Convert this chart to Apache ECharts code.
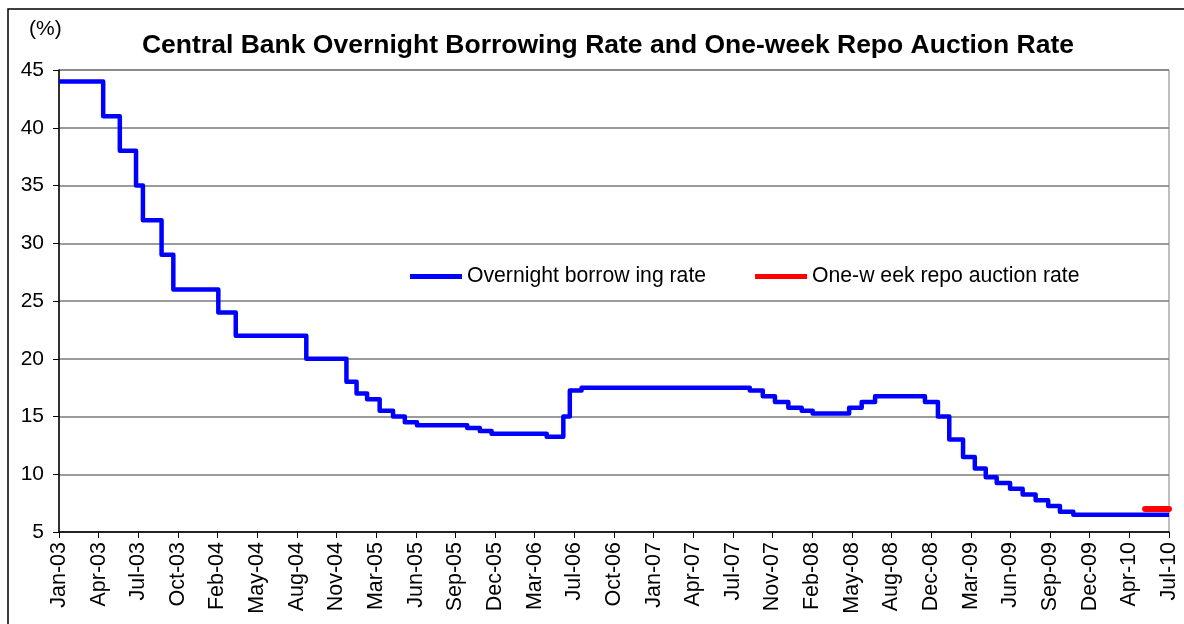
<!DOCTYPE html>
<html>
<head>
<meta charset="utf-8">
<script src="https://cdn.jsdelivr.net/npm/echarts@6/dist/echarts.min.js"></script>
<style>html,body{margin:0;padding:0;background:#fff;}#c{width:1184px;height:624px;}</style>
</head>
<body>
<div id="c"></div>
<script>
// ---- data ----
var startDate = '2003-01-01';
var endDate = '2010-07-01';
var tickLabels = ['Jan-03','Apr-03','Jul-03','Oct-03','Feb-04','May-04','Aug-04','Nov-04','Mar-05','Jun-05','Sep-05','Dec-05','Mar-06','Jul-06','Oct-06','Jan-07','Apr-07','Jul-07','Nov-07','Feb-08','May-08','Aug-08','Dec-08','Mar-09','Jun-09','Sep-09','Dec-09','Apr-10','Jul-10'];
// Overnight borrowing rate: dates where a new level starts, and that level
var overnightDates = ['2003-01-01','2003-04-20','2003-05-31','2003-07-10','2003-07-27','2003-09-11','2003-10-10','2004-01-29','2004-03-12','2004-09-02','2004-12-10','2005-01-04','2005-01-30','2005-03-02','2005-04-04','2005-05-03','2005-06-02','2005-10-04','2005-11-04','2005-12-03','2006-04-18','2006-05-29','2006-06-14','2006-07-13','2007-09-01','2007-10-03','2007-11-02','2007-12-05','2008-01-07','2008-02-03','2008-05-03','2008-06-03','2008-07-06','2008-11-06','2008-12-08','2009-01-05','2009-02-08','2009-03-09','2009-04-05','2009-05-02','2009-06-04','2009-07-05','2009-08-06','2009-09-06','2009-10-05','2009-11-07'];
var overnightRates = [44,41,38,35,32,29,26,24,22,20,18,17,16.5,15.5,15,14.5,14.25,14,13.75,13.5,13.25,15,17.25,17.5,17.25,16.75,16.25,15.75,15.5,15.25,15.75,16.25,16.75,16.25,15,13,11.5,10.5,9.75,9.25,8.75,8.25,7.75,7.25,6.75,6.5];
// One-week repo auction rate
var repoDates = ['2010-05-03','2010-07-01'];
var repoRates = [7,7];

var seriesNames = ['Overnight borrow ing rate','One-w eek repo auction rate'];
var titleText = 'Central Bank Overnight Borrowing Rate and One-week Repo Auction Rate';

// ---- helpers ----
function dayNum(s){var p=s.split('-');return Date.UTC(+p[0],+p[1]-1,+p[2])/86400000;}
var d0 = dayNum(startDate);
var TOTAL = dayNum(endDate) - d0;
var STEP = TOTAL / (tickLabels.length - 1);
function dx(s){return dayNum(s)-d0;}

var overnightData = overnightDates.map(function(d,i){return [dx(d), overnightRates[i]];});
overnightData.push([TOTAL, overnightRates[overnightRates.length-1]]);
var repoData = repoDates.map(function(d,i){return [dx(d), repoRates[i]];});

var FONT = 'Arial, "Liberation Sans", sans-serif';
var chart = echarts.init(document.getElementById('c'));
chart.setOption({
  animation:false,
  backgroundColor:'#fff',
  title:{text:titleText,left:603,top:27,textAlign:'center',
    textStyle:{fontFamily:FONT,fontSize:26.5,fontWeight:'bold',color:'#000'}},
  graphic:[
    {type:'rect',shape:{x:8,y:9,width:1200,height:700},style:{fill:'none',stroke:'#000',lineWidth:1.5},silent:true},
    {type:'text',left:29,top:19,style:{text:'(%)',fontFamily:FONT,fontSize:21,fill:'#000'}}
  ],
  legend:{left:405,top:261,itemGap:49,itemWidth:52,itemHeight:5,icon:'rect',
    textStyle:{fontFamily:FONT,fontSize:21.2,color:'#000'},
    data:[{name:seriesNames[0],itemStyle:{color:'#0000ff'}},{name:seriesNames[1],itemStyle:{color:'#ff0000'}}]},
  grid:{left:59,right:15,top:70,bottom:92,show:true,borderColor:'#808080',borderWidth:1,containLabel:false},
  xAxis:{type:'value',min:0,max:TOTAL,interval:STEP,
    axisLine:{show:true,lineStyle:{color:'#000',width:1.5}},
    axisTick:{show:true,inside:false,length:6,lineStyle:{color:'#000'}},
    splitLine:{show:false},
    axisLabel:{rotate:90,margin:10,fontFamily:FONT,fontSize:21.5,color:'#000',
      showMinLabel:true,showMaxLabel:true,
      formatter:function(v){var i=Math.round(v/STEP);return tickLabels[i]||'';}}
  },
  yAxis:{type:'value',min:5,max:45,interval:5,
    axisLine:{show:true,lineStyle:{color:'#000',width:1.5}},
    axisTick:{show:true,inside:false,length:6,lineStyle:{color:'#000'}},
    splitLine:{show:true,lineStyle:{color:'#7a7a7a',width:1.5}},
    axisLabel:{margin:15,fontFamily:FONT,fontSize:21,color:'#000'}
  },
  series:[
    {name:seriesNames[0],type:'line',step:'end',data:overnightData,showSymbol:false,
      lineStyle:{color:'#0000ff',width:4.5,join:'round'},itemStyle:{color:'#0000ff'},z:3},
    {name:seriesNames[1],type:'line',data:repoData,showSymbol:false,
      lineStyle:{color:'#ff0000',width:6,cap:'round'},itemStyle:{color:'#ff0000'},z:2}
  ]
});
</script>
</body>
</html>
